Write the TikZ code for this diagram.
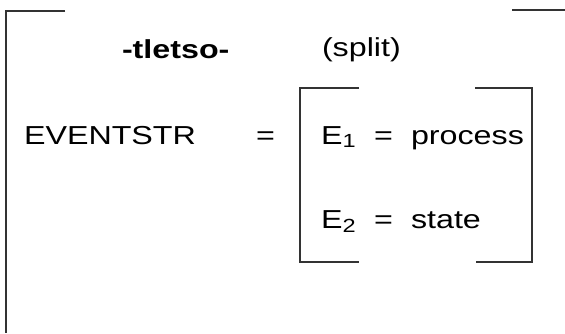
\documentclass[tikz,border=0pt]{standalone}
\usepackage{fontspec}
\setmainfont{Liberation Sans}
\usepackage{graphicx}
\newcommand{\sxt}[1]{\scalebox{1.24}[1]{#1}}
\begin{document}
\begin{tikzpicture}[x=1pt,y=-1pt,
  lbl/.style={inner sep=0pt,outer sep=0pt,anchor=base west,text=black,
    font=\fontsize{26}{28}\selectfont},
  brk/.style={draw=black!80,line width=1.8pt,line join=miter}]
\useasboundingbox[fill=white] (0,0) rectangle (565,333);
% outer bracket
\coordinate (otl) at (6,11);
\draw[brk] (65,11) -- (otl) -- (6,333);
\draw[brk] (512,10) -- (565,10);
% inner bracket
\coordinate (itl) at (300,88);
\coordinate (ibl) at (300,262);
\coordinate (itr) at (532,88);
\coordinate (ibr) at (532,262);
\draw[brk] (359,88) -- (itl) -- (ibl) -- (359,262);
\draw[brk] (475,88) -- (itr) -- (ibr) -- (476,262);
% texts
\node[lbl] (title) at (122,58) {\sxt{\bfseries -tletso-}};
\node[lbl] (split) at (322,56) {\sxt{(split)}};
\node[lbl] (ev) at (24,144) {\sxt{EVENTSTR}};
\node[lbl] (eq) at (256,144) {\sxt{=}};
\node[lbl] (e1) at (321,144) {\sxt{E\raisebox{-3pt}{\fontsize{19}{19}\selectfont 1}}};
\node[lbl] (eq1) at (374,144) {\sxt{=}};
\node[lbl] (proc) at (411,144) {\sxt{process}};
\node[lbl] (e2) at (321,228) {\sxt{E\raisebox{-4pt}{\fontsize{19}{19}\selectfont 2}}};
\node[lbl] (eq2) at (374,228) {\sxt{=}};
\node[lbl] (st) at (411,228) {\sxt{state}};
\end{tikzpicture}
\end{document}
